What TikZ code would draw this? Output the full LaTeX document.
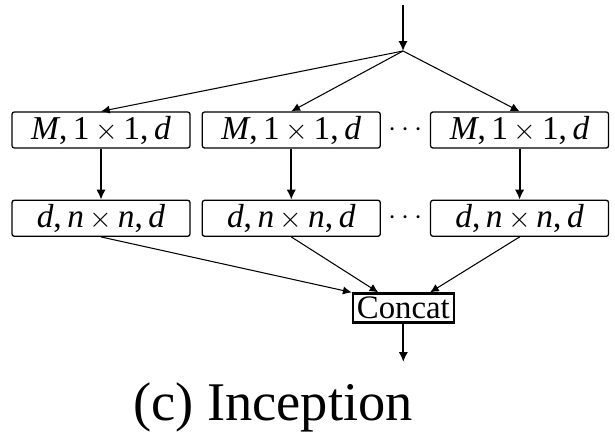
\documentclass[tikz,border=0pt]{standalone}
\usepackage{fontspec}
\setmainfont{Liberation Serif}
\usetikzlibrary{arrows.meta,positioning,calc}

\begin{document}
\begin{tikzpicture}[
    layer/.style={draw, rounded corners=2pt, line width=1.1pt, minimum width=5.34cm,
        minimum height=1.08cm, inner sep=0pt, font=\fontsize{28.5}{28.5}\selectfont},
    arr/.style={-{Latex[length=8.5pt,width=8pt]}, line width=1.6pt},
    thinarr/.style={-{Latex[length=7.5pt,width=7pt]}, line width=0.9pt}
]
    \useasboundingbox (0,0) rectangle (18.45,12.99);

    % entrada y punto de reparto
    \coordinate (in) at (12.09,12.84);
    \coordinate (split) at (12.09,11.46);
    \draw[arr] (in) -- (split);

    % primera fila: reduccion 1x1
    \node[layer] (a1) at (3.03,9.09) {\textit{M},\,1\,$\times$\,1,\,\textit{d}};
    \node[layer, right=0.33cm of a1] (a2) {\textit{M},\,1\,$\times$\,1,\,\textit{d}};
    \node[layer, right=1.47cm of a2] (a3) {\textit{M},\,1\,$\times$\,1,\,\textit{d}};
    \node[font=\fontsize{25}{25}\selectfont] (dots1) at ($(a2.east)!0.5!(a3.west)$) {$\cdots$};

    % segunda fila: convolucion nxn
    \node[layer, below=1.53cm of a1] (b1) {\textit{d},\,\textit{n}\,$\times$\,\textit{n},\,\textit{d}};
    \node[layer, below=1.53cm of a2] (b2) {\textit{d},\,\textit{n}\,$\times$\,\textit{n},\,\textit{d}};
    \node[layer, below=1.53cm of a3] (b3) {\textit{d},\,\textit{n}\,$\times$\,\textit{n},\,\textit{d}};
    \node[font=\fontsize{25}{25}\selectfont] (dots2) at ($(b2.east)!0.5!(b3.west)$) {$\cdots$};

    % concatenacion
    \node[draw, line width=1.8pt, inner xsep=3.5pt, inner ysep=3pt,
        font=\fontsize{28}{28}\selectfont] (concat) at (12.1,3.75) {Concat};
    \coordinate (out) at (12.1,2.13);

    \draw[thinarr] (split) -- (a1.north);
    \draw[thinarr] (split) -- (a2.north);
    \draw[thinarr] (split) -- (a3.north);

    \draw[arr] (a1) -- (b1);
    \draw[arr] (a2) -- (b2);
    \draw[arr] (a3) -- (b3);

    \draw[thinarr] (b1.south) -- (concat.north west);
    \draw[thinarr] (b2.south) -- ([xshift=-0.75cm]concat.north);
    \draw[thinarr] (b3.south) -- ([xshift=0.8cm]concat.north);
    \draw[arr] (concat) -- (out);

    \node[anchor=base west, font=\fontsize{46.5}{46.5}\selectfont] (caption) at (3.87,0.39) {(c) Inception};
\end{tikzpicture}
\end{document}
